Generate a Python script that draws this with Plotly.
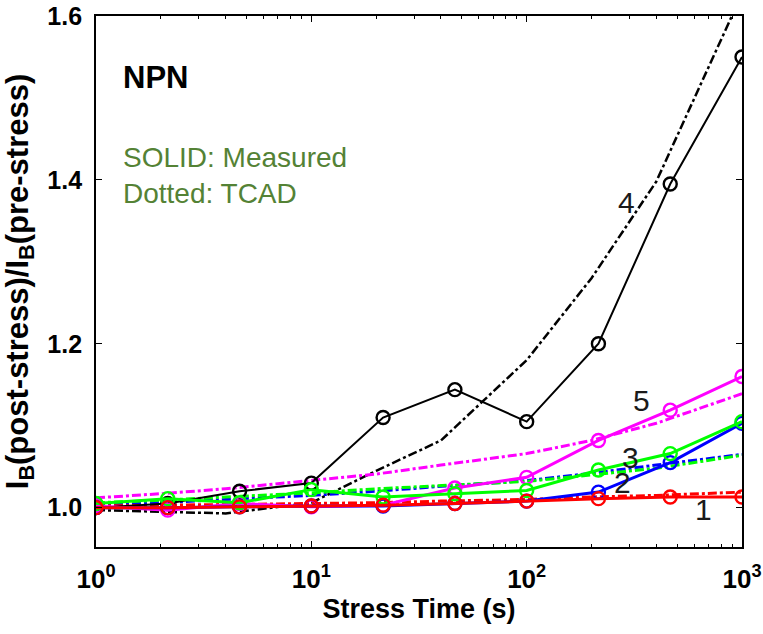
import math
import plotly.graph_objects as go

# measured stress times (s)
t_meas = [1, 2.154, 4.642, 10, 21.54, 46.42, 100, 215.4, 464.2, 1000]
# TCAD stress times (s)
t_tcad = [1, 2, 4, 10, 20, 40, 100, 200, 400, 1000]

meas_4 = [1.000, 1.005, 1.020, 1.030, 1.110, 1.144, 1.105, 1.200, 1.395, 1.550]
meas_5 = [1.002, 0.997, 1.005, 1.001, 1.003, 1.024, 1.037, 1.082, 1.119, 1.160]
meas_3 = [1.005, 1.011, 1.006, 1.022, 1.013, 1.017, 1.021, 1.046, 1.066, 1.105]
meas_2 = [1.000, 1.000, 1.001, 1.002, 1.002, 1.005, 1.008, 1.019, 1.055, 1.103]
meas_1 = [1.000, 1.000, 1.001, 1.002, 1.003, 1.005, 1.008, 1.011, 1.013, 1.013]

tcad_4 = [0.997, 0.995, 0.993, 1.006, 1.045, 1.082, 1.180, 1.280, 1.398, 1.627]
tcad_5 = [1.012, 1.017, 1.023, 1.033, 1.041, 1.052, 1.066, 1.082, 1.103, 1.139]
tcad_3 = [1.006, 1.009, 1.013, 1.018, 1.023, 1.027, 1.032, 1.040, 1.048, 1.064]
tcad_2 = [1.003, 1.006, 1.010, 1.015, 1.020, 1.026, 1.033, 1.042, 1.052, 1.065]
tcad_1 = [1.002, 1.003, 1.004, 1.005, 1.006, 1.008, 1.010, 1.013, 1.015, 1.019]

curve_labels = ["1", "2", "3", "4", "5"]
label_x = [659, 280, 305, 292, 340]
label_y = [0.998, 1.031, 1.061, 1.373, 1.131]

x_tickvals = [1, 10, 100, 1000]
x_ticktext = ["10<sup>0</sup>", "10<sup>1</sup>", "10<sup>2</sup>", "10<sup>3</sup>"]
y_tickvals = [1.0, 1.2, 1.4, 1.6]
y_ticktext = ["1.0", "1.2", "1.4", "1.6"]

SANS = "Liberation Sans, Arial, sans-serif"

fig = go.Figure()

series = [
    (meas_4, tcad_4, "#000000", 2.0, 2.5),
    (meas_5, tcad_5, "#FF00FF", 3.0, 3.0),
    (meas_2, tcad_2, "#0000FF", 3.0, 3.0),
    (meas_3, tcad_3, "#00FF00", 3.0, 3.0),
    (meas_1, tcad_1, "#FF0000", 3.0, 3.0),
]

for meas, tcad, col, lw, dw in series:
    fig.add_trace(go.Scatter(
        x=t_tcad, y=tcad, mode="lines",
        line=dict(color=col, width=dw, dash="dashdot"),
        showlegend=False, hoverinfo="skip"))
for meas, tcad, col, lw, dw in series:
    fig.add_trace(go.Scatter(
        x=t_meas, y=meas, mode="lines+markers",
        line=dict(color=col, width=lw),
        marker=dict(symbol="circle-open", size=13, color=col, line=dict(width=2.4, color=col)),
        showlegend=False, cliponaxis=True))

for lab, lx, ly in zip(curve_labels, label_x, label_y):
    fig.add_annotation(x=math.log10(lx), y=ly, xref="x", yref="y",
                       text=lab, showarrow=False,
                       font=dict(family=SANS, size=30, color="#1a1a1a"))

fig.add_annotation(x=0.038, y=0.885, xref="paper", yref="paper", text="<b>NPN</b>",
                   showarrow=False, xanchor="left", yanchor="middle",
                   font=dict(family=SANS, size=31, color="#000000"))

fig.add_annotation(x=0.038, y=0.70, xref="paper", yref="paper",
                   text="SOLID: Measured<br>Dotted: TCAD", align="left",
                   showarrow=False, xanchor="left", yanchor="middle",
                   font=dict(family=SANS, size=28, color="#548235"))

minor_vals = [m * 10 ** k for k in range(3) for m in range(2, 10)]

fig.update_layout(
    width=763, height=634,
    margin=dict(l=96, r=21, t=16, b=87, autoexpand=False),
    paper_bgcolor="white", plot_bgcolor="white",
    showlegend=False,
    xaxis=dict(
        type="log", range=[0, 3], automargin=False,
        tickvals=x_tickvals, ticktext=x_ticktext,
        ticks="inside", ticklen=6, tickwidth=1.2, tickcolor="black",
        minor=dict(tickvals=minor_vals, ticks="inside", ticklen=3, tickwidth=1, tickcolor="black"),
        showline=True, linecolor="black", linewidth=1.5, mirror="ticks",
        showgrid=False, zeroline=False,
        tickfont=dict(family=SANS, size=26, color="black", weight="bold"),
        ticklabelstandoff=8,
        title=dict(text="<b>Stress Time (s)</b>", font=dict(family=SANS, size=27, color="black"),
                   standoff=6),
    ),
    yaxis=dict(
        range=[0.952, 1.6], automargin=False,
        tickvals=y_tickvals, ticktext=y_ticktext,
        ticks="inside", ticklen=6, tickwidth=1.2, tickcolor="black",
        showline=True, linecolor="black", linewidth=1.8, mirror="ticks",
        showgrid=False, zeroline=False,
        tickfont=dict(family=SANS, size=25, color="black", weight="bold"),
        ticklabelstandoff=7,
        title=dict(text="<b>I<sub>B</sub>(post-stress)/I<sub>B</sub>(pre-stress)</b>",
                   font=dict(family=SANS, size=31, color="black"), standoff=10),
    ),
)

fig.write_html("out.html")
